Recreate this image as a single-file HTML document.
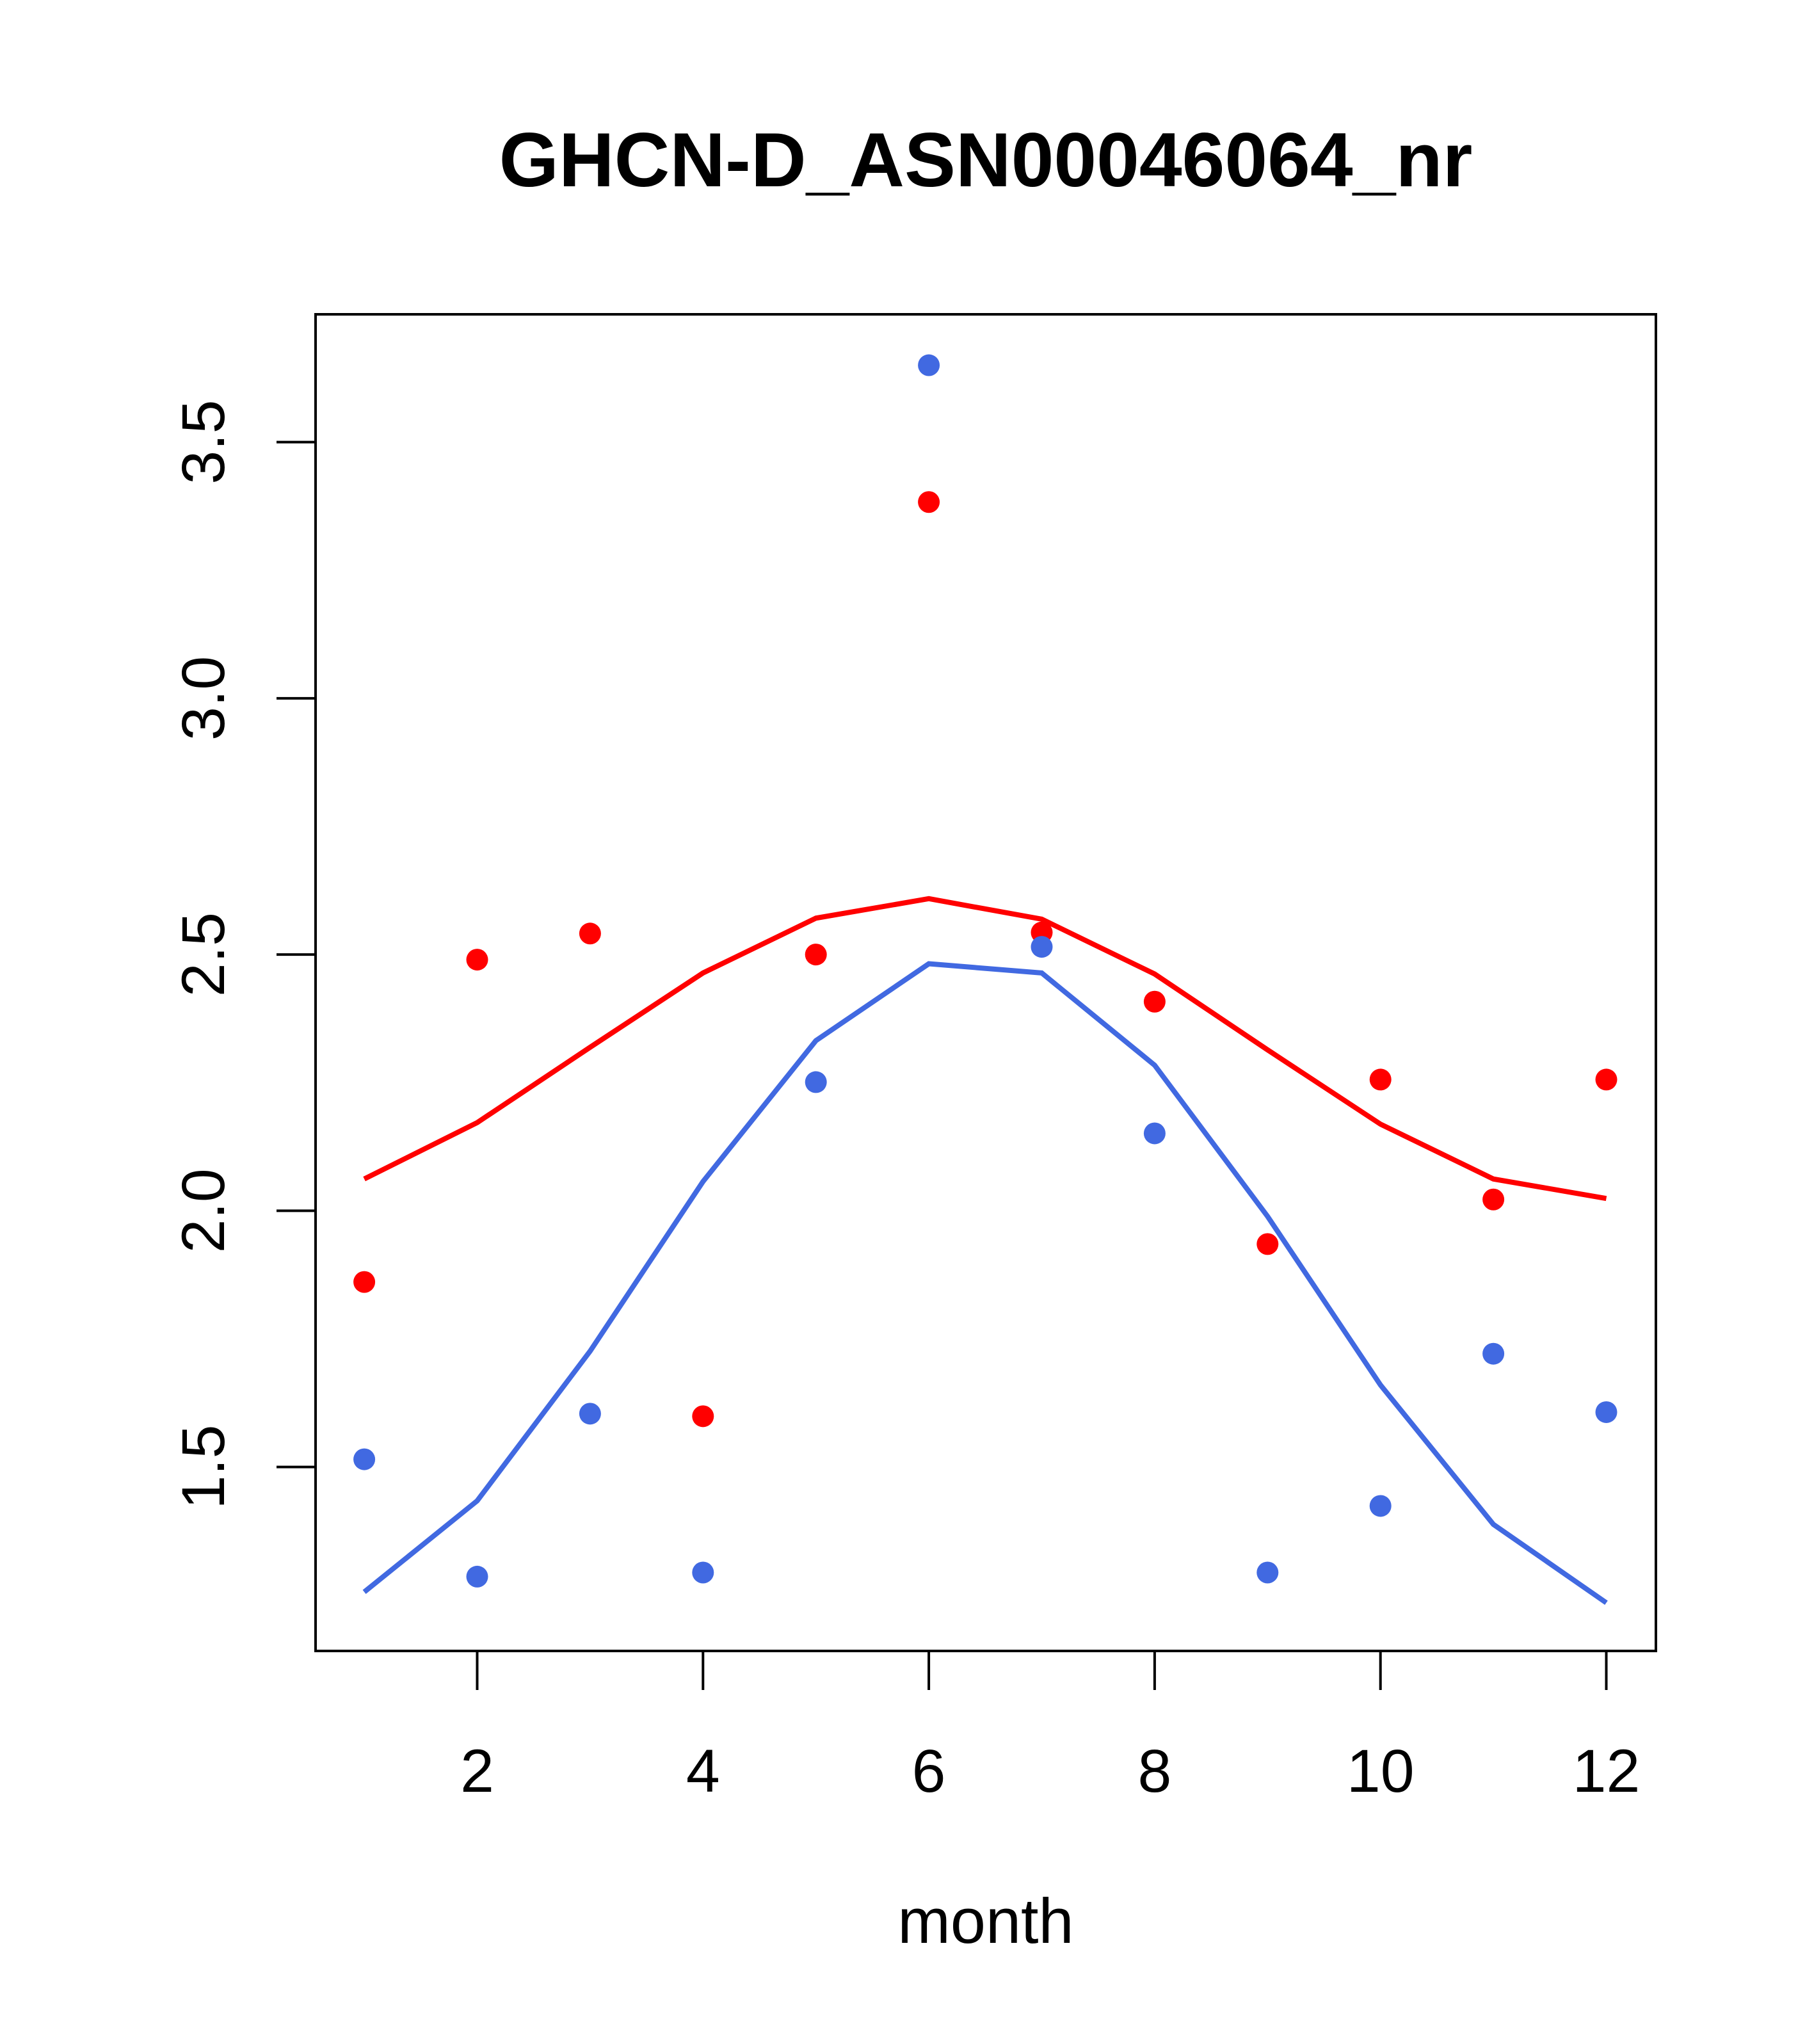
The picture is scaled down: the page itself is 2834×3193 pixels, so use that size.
<!DOCTYPE html>
<html><head><meta charset="utf-8"><style>
html,body{margin:0;padding:0;background:#fff;}
svg text{font-family:"Liberation Sans",Arial,sans-serif;}
</style></head><body>
<svg id="chart" width="2834" height="3188" viewBox="0 0 2834 3188" xmlns="http://www.w3.org/2000/svg">
<rect width="2834" height="3188" fill="#fff"/>
<text x="1540" y="291" font-size="120" font-weight="bold" text-anchor="middle">GHCN-D_ASN00046064_nr</text>
<rect x="493" y="491" width="2094" height="2088" fill="none" stroke="#000" stroke-width="4"/>
<text x="1540" y="3035" font-size="99" text-anchor="middle">month</text>
<g id="xaxis"></g>
<g id="yaxis"></g>
<g id="series"></g>
</svg>
<script>
const months=[1,2,3,4,5,6,7,8,9,10,11,12];
const xTicks=[2,4,6,8,10,12];
const yTicks=[1.5,2.0,2.5,3.0,3.5];
const yTickLabels=["1.5","2.0","2.5","3.0","3.5"];
const redPoints=[1.861,2.49,2.541,1.599,2.5,3.383,2.543,2.408,1.935,2.256,2.022,2.256];
const bluePoints=[1.515,1.286,1.604,1.294,2.251,3.65,2.515,2.151,1.294,1.424,1.721,1.607];
const redLine=[2.062,2.172,2.319,2.464,2.571,2.609,2.569,2.462,2.314,2.169,2.062,2.024];
const blueLine=[1.256,1.434,1.726,2.057,2.332,2.482,2.464,2.284,1.989,1.660,1.388,1.235];

const NS="http://www.w3.org/2000/svg";
function X(m){return 745.5+(m-2)*176.4;}
function Y(v){return 2291.6-(v-1.5)*800.5;}
function mk(tag,attrs,parent){const e=document.createElementNS(NS,tag);for(const k in attrs)e.setAttribute(k,attrs[k]);parent.appendChild(e);return e;}

const xa=document.getElementById('xaxis');
mk('line',{x1:X(2),x2:X(12),y1:2579,y2:2579,stroke:'#000','stroke-width':4},xa);
xTicks.forEach(t=>{
  const l=mk('line',{x1:X(t),x2:X(t),y1:2579,y2:2640,stroke:'#000','stroke-width':4},xa);
  
  
  const tx=mk('text',{x:X(t),y:2799,'font-size':95,'text-anchor':'middle'},xa);
  tx.textContent=String(t);
  
  
});
const ya=document.getElementById('yaxis');
mk('line',{x1:493,x2:493,y1:Y(1.5),y2:Y(3.5),stroke:'#000','stroke-width':4},ya);
yTicks.forEach((t,i)=>{
  const l=mk('line',{x1:432,x2:493,y1:Y(t),y2:Y(t),stroke:'#000','stroke-width':4},ya);
  
  
  const tx=mk('text',{x:0,y:0,'font-size':95,'text-anchor':'middle',transform:`translate(350,${Y(t)}) rotate(-90)`},ya);
  tx.textContent=yTickLabels[i];
  
  
});
const s=document.getElementById('series');
function line(vals,color,name){
  const p=mk('polyline',{points:vals.map((v,i)=>X(months[i])+','+Y(v)).join(' '),fill:'none',stroke:color,'stroke-width':8},s);
  
  
}
function pts(vals,color,name){
  vals.forEach((v,i)=>{
    const c=mk('circle',{cx:X(months[i]),cy:Y(v),r:17,fill:color},s);
    
    
  });
}
line(redLine,'#FF0000','red-line');
line(blueLine,'#4169E1','blue-line');
pts(redPoints,'#FF0000','red-point');
pts(bluePoints,'#4169E1','blue-point');
</script>
</body></html>
